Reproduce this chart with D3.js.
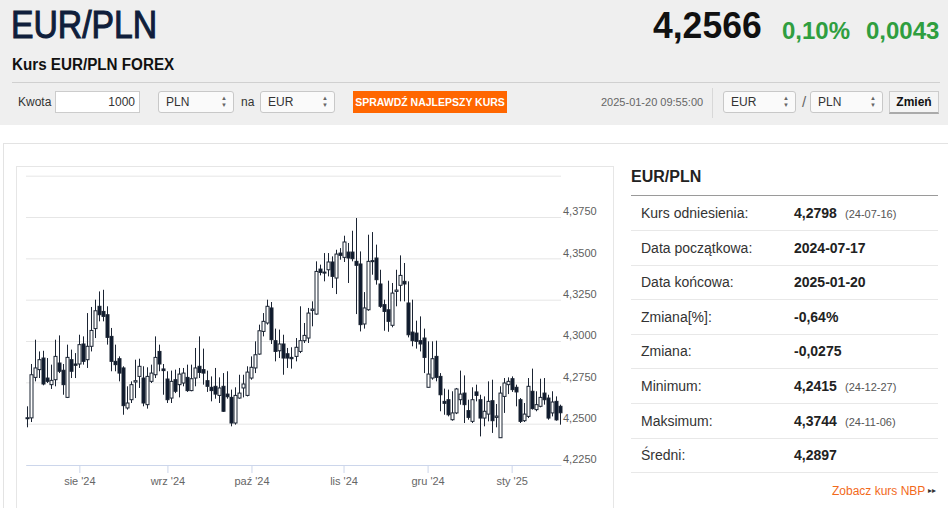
<!DOCTYPE html>
<html>
<head>
<meta charset="utf-8">
<script src="https://cdn.jsdelivr.net/npm/d3@7"></script>
<style>
  body { margin: 0; width: 948px; height: 508px; overflow: hidden; background: #fff;
         font-family: "Liberation Sans", Arial, sans-serif; color: #333; position: relative; }
  .abs { position: absolute; white-space: nowrap; }
  .sel { position: absolute; height: 20px; border: 1px solid #c8c8c8; border-radius: 3px; background: #fafafa;
         font-size: 12px; line-height: 20px; padding-left: 7px; box-sizing: border-box; height: 22px; }
  .sel .arr { position: absolute; right: 6px; top: 3px; font-size: 6px; line-height: 7px; color: #666; }
</style>
</head>
<body>
<div id="page"></div>
<script>
// trading days shown on the chart
var dates = [
  "2024-07-15","2024-07-16","2024-07-17","2024-07-18","2024-07-19","2024-07-22","2024-07-23","2024-07-24","2024-07-25","2024-07-26","2024-07-29","2024-07-30","2024-07-31",
  "2024-08-01","2024-08-02","2024-08-05","2024-08-06","2024-08-07","2024-08-08","2024-08-09","2024-08-12","2024-08-13","2024-08-14","2024-08-15","2024-08-16","2024-08-19","2024-08-20","2024-08-21","2024-08-22","2024-08-23","2024-08-26","2024-08-27","2024-08-28","2024-08-29","2024-08-30",
  "2024-09-02","2024-09-03","2024-09-04","2024-09-05","2024-09-06","2024-09-09","2024-09-10","2024-09-11","2024-09-12","2024-09-13","2024-09-16","2024-09-17","2024-09-18","2024-09-19","2024-09-20","2024-09-23","2024-09-24","2024-09-25","2024-09-26","2024-09-27","2024-09-30",
  "2024-10-01","2024-10-02","2024-10-03","2024-10-04","2024-10-07","2024-10-08","2024-10-09","2024-10-10","2024-10-11","2024-10-14","2024-10-15","2024-10-16","2024-10-17","2024-10-18","2024-10-21","2024-10-22","2024-10-23","2024-10-24","2024-10-25","2024-10-28","2024-10-29","2024-10-30","2024-10-31",
  "2024-11-01","2024-11-04","2024-11-05","2024-11-06","2024-11-07","2024-11-08","2024-11-11","2024-11-12","2024-11-13","2024-11-14","2024-11-15","2024-11-18","2024-11-19","2024-11-20","2024-11-21","2024-11-22","2024-11-25","2024-11-26","2024-11-27","2024-11-28","2024-11-29",
  "2024-12-02","2024-12-03","2024-12-04","2024-12-05","2024-12-06","2024-12-09","2024-12-10","2024-12-11","2024-12-12","2024-12-13","2024-12-16","2024-12-17","2024-12-18","2024-12-19","2024-12-20","2024-12-23","2024-12-24","2024-12-26","2024-12-27","2024-12-30","2024-12-31",
  "2025-01-02","2025-01-03","2025-01-06","2025-01-07","2025-01-08","2025-01-09","2025-01-10","2025-01-13","2025-01-14","2025-01-15","2025-01-16","2025-01-17","2025-01-20"
];

var open = [
  4.2530,4.2535,4.2780,4.2827,4.2897,4.2776,4.2736,4.2766,4.2867,4.2823,4.2659,4.2887,4.2861,4.2861,4.2982,4.2887,4.2968,4.3075,4.3210,4.3179,
  4.3159,4.3028,4.2877,4.2893,4.2837,4.2595,4.2645,4.2752,4.2786,4.2776,4.2615,4.2756,4.2796,4.2937,4.2831,4.2770,4.2655,4.2766,4.2736,4.2746,
  4.2780,4.2700,4.2776,4.2847,4.2827,4.2760,4.2720,4.2726,4.2671,4.2726,4.2679,4.2659,4.2504,4.2655,4.2716,4.2671,4.2776,4.2837,4.2921,4.3058,
  4.3109,4.3200,4.3002,4.2941,4.2982,4.2923,4.2901,4.2907,4.2937,4.3002,4.3018,4.3185,4.3163,4.3435,4.3417,4.3431,4.3478,4.3381,4.3532,4.3506,
  4.3538,4.3538,4.3482,4.3466,4.3103,4.3189,4.3486,4.3502,4.3345,4.3220,4.3189,4.3095,4.3300,4.3337,4.3361,4.3230,4.3054,4.3048,4.3002,4.3018,
  4.2720,4.2776,4.2907,4.2786,4.2635,4.2645,4.2524,4.2565,4.2645,4.2685,4.2579,4.2514,4.2692,4.2645,4.2534,4.2558,4.2639,4.2538,4.2415,4.2665,
  4.2736,4.2772,4.2720,4.2645,4.2518,4.2544,4.2696,4.2585,4.2605,4.2685,4.2655,4.2565,4.2635,4.2605
];
var high = [
  4.2605,4.2861,4.3008,4.2937,4.2941,4.2897,4.2857,4.3008,4.3034,4.2861,4.2978,4.2948,4.2927,4.3038,4.3028,4.3169,4.3206,4.3250,4.3300,4.3310,
  4.3210,4.3079,4.2978,4.2907,4.2847,4.2726,4.2756,4.2887,4.2893,4.2847,4.2841,4.2857,4.3028,4.2978,4.2861,4.2817,4.2821,4.2827,4.2837,4.2837,
  4.2857,4.2857,4.2958,4.3028,4.2954,4.2821,4.2786,4.2837,4.2780,4.2806,4.2817,4.2706,4.2720,4.2796,4.2796,4.2847,4.2907,4.2998,4.3099,4.3169,
  4.3250,4.3236,4.3075,4.3069,4.3038,4.2958,4.2962,4.3018,4.3210,4.3109,4.3200,4.3240,4.3482,4.3462,4.3532,4.3532,4.3512,4.3552,4.3562,4.3637,
  4.3593,4.3667,4.3744,4.3542,4.3296,4.3643,4.3659,4.3583,4.3431,4.3250,4.3365,4.3351,4.3431,4.3518,4.3472,4.3361,4.3250,4.3123,4.3149,4.3075,
  4.2998,4.2998,4.3002,4.2806,4.2712,4.2706,4.2696,4.2716,4.2821,4.2792,4.2645,4.2720,4.2736,4.2675,4.2665,4.2756,4.2766,4.2619,4.2726,4.2776,
  4.2780,4.2786,4.2736,4.2655,4.2625,4.2776,4.2833,4.2696,4.2772,4.2776,4.2675,4.2696,4.2665,4.2615
];
var low = [
  4.2478,4.2510,4.2756,4.2776,4.2732,4.2746,4.2710,4.2726,4.2806,4.2675,4.2655,4.2776,4.2776,4.2837,4.2857,4.2837,4.2937,4.3018,4.3119,4.3119,
  4.2978,4.2817,4.2817,4.2756,4.2554,4.2585,4.2625,4.2655,4.2716,4.2605,4.2591,4.2746,4.2776,4.2817,4.2675,4.2625,4.2625,4.2685,4.2659,4.2726,
  4.2692,4.2696,4.2726,4.2776,4.2736,4.2692,4.2635,4.2651,4.2625,4.2571,4.2651,4.2484,4.2494,4.2651,4.2659,4.2665,4.2766,4.2806,4.2917,4.3028,
  4.3099,4.2982,4.2877,4.2897,4.2796,4.2837,4.2833,4.2877,4.2927,4.2988,4.2988,4.3089,4.3159,4.3397,4.3361,4.3391,4.3321,4.3284,4.3492,4.3478,
  4.3351,4.3482,4.3163,4.3058,4.3075,4.3183,4.3401,4.3341,4.3200,4.3062,4.3056,4.3083,4.3210,4.3240,4.3240,4.3022,4.2968,4.2954,4.2937,4.2806,
  4.2720,4.2766,4.2756,4.2575,4.2554,4.2544,4.2518,4.2558,4.2615,4.2504,4.2524,4.2504,4.2635,4.2423,4.2484,4.2514,4.2444,4.2478,4.2415,4.2565,
  4.2679,4.2692,4.2605,4.2504,4.2510,4.2534,4.2585,4.2575,4.2599,4.2615,4.2524,4.2544,4.2518,4.2494
];
var close = [
  4.2536,4.2796,4.2837,4.2887,4.2740,4.2756,4.2762,4.2907,4.2817,4.2736,4.2901,4.2817,4.2853,4.2978,4.2877,4.2968,4.3064,4.3183,4.3159,4.3149,
  4.3022,4.2877,4.2857,4.2806,4.2609,4.2625,4.2736,4.2760,4.2847,4.2625,4.2786,4.2806,4.2901,4.2861,4.2821,4.2645,4.2756,4.2696,4.2800,4.2806,
  4.2700,4.2772,4.2837,4.2810,4.2806,4.2726,4.2700,4.2679,4.2716,4.2575,4.2663,4.2504,4.2671,4.2685,4.2740,4.2812,4.2841,4.2917,4.3062,4.3119,
  4.3210,4.3008,4.2937,4.2982,4.2897,4.2897,4.2893,4.2962,4.3002,4.3034,4.3169,4.3193,4.3421,4.3415,4.3413,4.3478,4.3391,4.3526,4.3518,4.3599,
  4.3502,4.3498,4.3458,4.3099,4.3200,4.3482,4.3482,4.3371,4.3210,4.3179,4.3119,4.3290,4.3308,4.3397,4.3345,4.3038,4.3002,4.2998,4.2982,4.2901,
  4.2800,4.2893,4.2780,4.2675,4.2623,4.2554,4.2565,4.2710,4.2679,4.2615,4.2538,4.2645,4.2671,4.2534,4.2575,4.2635,4.2518,4.2546,4.2685,4.2746,
  4.2756,4.2706,4.2692,4.2514,4.2558,4.2726,4.2591,4.2615,4.2659,4.2645,4.2534,4.2631,4.2523,4.2566
];

var yTicks = [4.225, 4.25, 4.275, 4.30, 4.325, 4.35, 4.375, 4.40];
var monthTicks = ["2024-08-01","2024-09-02","2024-10-01","2024-11-01","2024-12-02","2025-01-02"];
var monthLabels = ["sie '24","wrz '24","paź '24","lis '24","gru '24","sty '25"];

var statLabels = ["Kurs odniesienia:","Data początkowa:","Data końcowa:","Zmiana[%]:","Zmiana:","Minimum:","Maksimum:","Średni:"];
var statValues = ["4,2798","2024-07-17","2025-01-20","-0,64%","-0,0275","4,2415","4,3744","4,2897"];
var statDates  = ["(24-07-16)","","","","","(24-12-27)","(24-11-06)",""];

var page = d3.select("#page");
function txt(x, y, s, style) {
  return page.append("div").attr("class", "abs").style("left", x + "px").style("top", y + "px")
    .attr("style", function() { return this.getAttribute("style") + ";" + (style || ""); }).text(s);
}

// header band
page.append("div").attr("class", "abs").attr("style", "left:0;top:0;width:948px;height:125px;background:#efefef");
txt(11, 3, "EUR/PLN", "font-size:39px;color:#0f1e3b;-webkit-text-stroke:1.1px #0f1e3b;transform:scaleX(0.865);transform-origin:0 0");
txt(653, 5, "4,2566", "font-size:37px;font-weight:bold;color:#111;transform:scaleX(0.96);transform-origin:0 0");
txt(782, 17, "0,10%", "font-size:24px;font-weight:bold;color:#2f9e3f");
txt(866, 17, "0,0043", "font-size:24px;font-weight:bold;color:#2f9e3f");
txt(12, 56, "Kurs EUR/PLN FOREX", "font-size:16px;font-weight:bold;color:#111;transform:scaleX(0.95);transform-origin:0 0");
page.append("div").attr("class", "abs").attr("style", "left:12px;top:82px;width:928px;height:1px;background:#d0d0d0");

// controls row
txt(18, 95, "Kwota", "font-size:12px;color:#333");
page.append("div").attr("class", "abs")
  .attr("style", "left:55px;top:91px;width:85px;height:22px;box-sizing:border-box;background:#fff;border:1px solid #ccc;font-size:12px;line-height:20px;text-align:right;padding-right:4px")
  .text("1000");
function sel(x, w, s) {
  var d = page.append("div").attr("class", "sel").style("left", x + "px").style("top", "91px").style("width", w + "px").text(s);
  d.append("div").attr("class", "arr").html("&#9650;<br>&#9660;");
}
sel(158, 76, "PLN");
txt(241, 95, "na", "font-size:12px;color:#333");
sel(260, 75, "EUR");
page.append("div").attr("class", "abs")
  .attr("style", "left:353px;top:91px;width:154px;height:22px;background:#ff6600;color:#fff;font-size:10.5px;font-weight:bold;line-height:22px;text-align:center")
  .text("SPRAWDŹ NAJLEPSZY KURS");
txt(601, 96, "2025-01-20 09:55:00", "font-size:11px;color:#666");
page.append("div").attr("class", "abs").attr("style", "left:712px;top:88px;width:1px;height:30px;background:#d8d8d8");
sel(723, 73, "EUR");
txt(802, 93, "/", "font-size:15px;color:#666");
sel(810, 73, "PLN");
page.append("div").attr("class", "abs")
  .attr("style", "left:889px;top:91px;width:50px;height:23px;box-sizing:border-box;background:#f4f4f4;border:1px solid #ccc;border-bottom:2px solid #aaa;font-size:12px;font-weight:bold;line-height:20px;text-align:center;color:#111")
  .text("Zmień");

// content boxes
page.append("div").attr("class", "abs").attr("style", "left:3px;top:143px;width:945px;height:370px;border-top:1px solid #e3e3e3;border-left:1px solid #e3e3e3");
page.append("div").attr("class", "abs").attr("style", "left:16px;top:166px;width:596px;height:360px;border:1px solid #e6e6e6");

// stats table
txt(631, 168, "EUR/PLN", "font-size:16px;font-weight:bold;color:#222");
page.append("div").attr("class", "abs").attr("style", "left:631px;top:195px;width:307px;height:1px;background:#9a9a9a");
statLabels.forEach(function(l, i) {
  var top = 196 + i * 34.6;
  page.append("div").attr("class", "abs").style("left", "631px").style("top", (top + 34) + "px")
    .style("width", "307px").style("height", "1px").style("background", "#e8e8e8");
  txt(641, top + 9, l, "font-size:14px;color:#333");
  txt(794, top + 9, statValues[i], "font-size:14px;font-weight:bold;color:#222");
  if (statDates[i]) txt(845, top + 12, statDates[i], "font-size:11px;color:#555");
});
txt(832, 484, "Zobacz kurs NBP", "font-size:12px;color:#f26a1b");
txt(928, 486, "\u25B8\u25B8", "font-size:8px;color:#333");

// candlestick chart
var svg = page.append("svg").attr("class", "abs").style("left", 0).style("top", 0)
  .attr("width", 948).attr("height", 508);

var x = d3.scalePoint().domain(dates).range([26, 561]).padding(0.33);
var y = d3.scaleLinear().domain([4.225, 4.40]).range([465, 175.7]);

var fmt = function(d) { return d3.format(".4f")(d).replace(".", ","); };

var gy = svg.append("g").attr("transform", "translate(561,0)")
  .call(d3.axisRight(y).tickValues(yTicks).tickSize(-535).tickPadding(2)
    .tickFormat(function(d) { return d >= 4.399 ? "" : fmt(d); }));
gy.select(".domain").remove();
gy.selectAll("line").attr("stroke", "#e6e6e6");
gy.selectAll("text").attr("fill", "#606060").attr("font-size", "11px").attr("dy", "-0.2em")
  .attr("font-family", "Liberation Sans, Arial, sans-serif");

var gx = svg.append("g").attr("transform", "translate(0,465)")
  .call(d3.axisBottom(x).tickValues(monthTicks).tickSize(8).tickSizeOuter(0).tickPadding(4)
    .tickFormat(function(d, i) { return monthLabels[i]; }));
gx.select(".domain").attr("stroke", "#ccd6eb");
gx.selectAll("line").attr("stroke", "#ccd6eb");
gx.selectAll("text").attr("fill", "#666").attr("font-size", "11px")
  .attr("font-family", "Liberation Sans, Arial, sans-serif");

var candle = svg.append("g").selectAll("g").data(dates).enter().append("g");
candle.append("line")
  .attr("x1", function(d) { return Math.round(x(d)) + 0.5; })
  .attr("x2", function(d) { return Math.round(x(d)) + 0.5; })
  .attr("y1", function(d, i) { return y(high[i]); })
  .attr("y2", function(d, i) { return y(low[i]); })
  .attr("stroke", "#1b2433").attr("stroke-width", 1);
candle.append("rect")
  .attr("x", function(d) { return Math.round(x(d)) - 1; })
  .attr("width", 3)
  .attr("y", function(d, i) { return y(Math.max(open[i], close[i])); })
  .attr("height", function(d, i) { return Math.max(1, Math.abs(y(open[i]) - y(close[i]))); })
  .attr("fill", function(d, i) { return close[i] >= open[i] ? "#fff" : "#0f1a2e"; })
  .attr("stroke", "#1b2433").attr("stroke-width", 1);
</script>
</body>
</html>
